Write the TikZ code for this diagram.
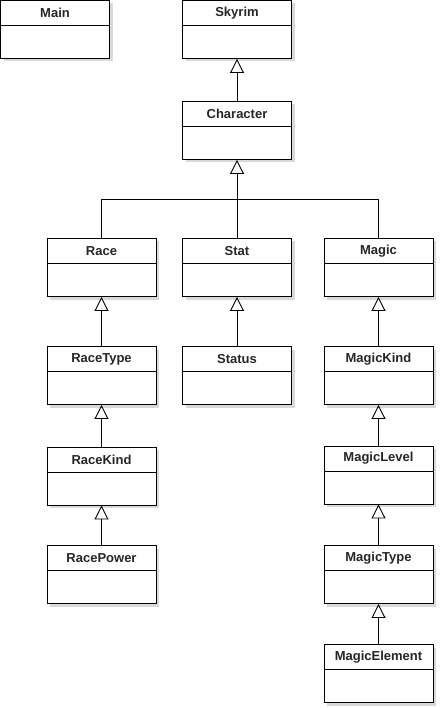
\documentclass[tikz,border=0pt]{standalone}
\usepackage{fontspec}
\setmainfont{Liberation Sans}
\usetikzlibrary{arrows.meta,shadows}

\begin{document}
\begin{tikzpicture}[x=1pt,y=-1pt,
  cls/.style={draw,fill=white,line width=0.9pt,minimum width=109pt,minimum height=58pt,inner sep=0pt,
    drop shadow={shadow xshift=3pt,shadow yshift=-3pt,opacity=0.25,fill=black!60}},
  head/.style={draw,line width=0.9pt,minimum width=109pt,minimum height=25pt,inner sep=0pt,anchor=north,
    font=\fontsize{13}{15}\selectfont\bfseries,text=black!85},
  inh/.style={line width=0.9pt,-{Triangle[open,length=14pt,width=14pt]}}]

%fixes the page size
\useasboundingbox (0,0) rectangle (439,708);

%draws classes
\foreach \n/\x/\y/\t in {main/55/29.5/Main, skyrim/237/29.5/Skyrim, character/237/130.5/Character,
    race/101.5/267.5/Race, stat/237/267.5/Stat, magic/378.5/267.5/Magic,
    racetype/101.5/375.5/RaceType, status/237/375.5/Status, magickind/378.5/375.5/MagicKind,
    racekind/101.5/476/RaceKind, magiclevel/378.5/475/MagicLevel,
    racepower/101.5/574.5/RacePower, magictype/378.5/574.5/MagicType,
    magicelement/378.5/673.5/MagicElement}
{
  \node[cls] (\n) at (\x,\y) {};
  \node[head] (\n-head) at (\n.north) {\t};
}

%draws inheritance
\coordinate (fork) at (237,199);
\draw[line width=0.9pt] (race.north) |- (fork);
\draw[line width=0.9pt] (magic.north) |- (fork);
\foreach \a/\b in {character/skyrim, stat/character, racetype/race, racekind/racetype,
    racepower/racekind, status/stat, magickind/magic, magiclevel/magickind,
    magictype/magiclevel, magicelement/magictype}
  \draw[inh] (\a.north) -- (\b.south);
\end{tikzpicture}
\end{document}
